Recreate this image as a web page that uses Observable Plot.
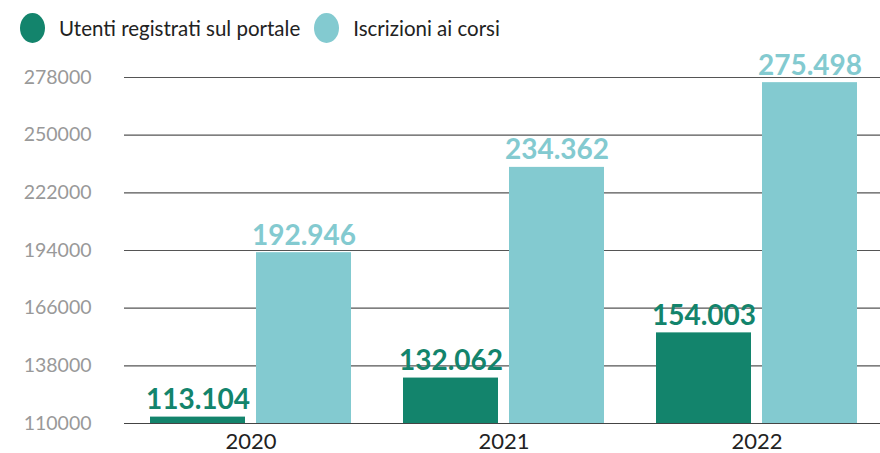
<!DOCTYPE html>
<html>
<head>
<meta charset="utf-8">
<script src="https://cdn.jsdelivr.net/npm/d3@7"></script>
<script src="https://cdn.jsdelivr.net/npm/@observablehq/plot@0.6"></script>
<style>
  html, body { margin: 0; background: white; overflow: hidden; font-family: Lato, "Noto Sans", sans-serif; }
  #legend { box-sizing: border-box; height: 45px; padding-top: 11px; display: flex; align-items: center; }
  .item { display: flex; align-items: center; font-size: 20.5px; color: #222; }
  .sw { width: 25px; height: 30px; border-radius: 50%; display: inline-block; margin-right: 14px; }
  svg { overflow: visible; display: block; }
</style>
</head>
<body>
<div id="legend"></div>
<div id="chart"></div>
<script>
const years = ["2020", "2021", "2022"];
const series = ["Utenti registrati sul portale", "Iscrizioni ai corsi"];
const utenti = [113104, 132062, 154003];
const iscrizioni = [192946, 234362, 275498];
const yTicks = [110000, 138000, 166000, 194000, 222000, 250000, 278000];
const colors = ["#13846c", "#83cad0"];

const data = years.flatMap((y, i) => [
  {year: y, series: series[0], value: utenti[i]},
  {year: y, series: series[1], value: iscrizioni[i]}
]);

const fmt = d3.formatLocale({decimal: ",", thousands: ".", grouping: [3], currency: ["", "€"]}).format(",");

const legend = document.getElementById("legend");
series.forEach((s, i) => {
  const it = document.createElement("div");
  it.className = "item";
  it.style.marginLeft = i === 0 ? "20px" : "14px";
  it.innerHTML = `<span class="sw" style="background:${colors[i]}"></span><span>${s}</span>`;
  legend.appendChild(it);
});

const chart = Plot.plot({
  width: 884,
  height: 408,
  marginLeft: 123,
  marginRight: 0,
  marginTop: 32,
  marginBottom: 30,
  style: {fontFamily: "Lato, 'Noto Sans', sans-serif", background: "white", overflow: "visible", maxWidth: "none"},
  fx: {domain: years, padding: 0, label: null, axis: null},
  x: {domain: series, paddingInner: 0.104, paddingOuter: 0.245, axis: null},
  y: {domain: [yTicks[0], yTicks[yTicks.length - 1]], axis: null},
  color: {domain: series, range: colors},
  marks: [
    Plot.ruleY(yTicks, {stroke: "#555", strokeWidth: 1.2}),
    Plot.barY(data, {fx: "year", x: "series", y1: yTicks[0], y2: "value", fill: "series"}),
    Plot.text(data, {fx: "year", x: "series", y: "value", text: d => fmt(d.value), fill: "series",
      dy: -8, lineAnchor: "bottom", fontSize: 28, fontWeight: "bold"}),
    Plot.ruleY([yTicks[0]], {stroke: "#444", strokeWidth: 1.2}),
    Plot.axisY({ticks: yTicks, tickSize: 0, tickPadding: 33, fontSize: 19.5, fill: "#999",
      tickFormat: d => String(d), label: null}),
    Plot.axisFx({anchor: "bottom", tickSize: 0, tickPadding: 10, fontSize: 22, fill: "#222", label: null})
  ]
});
document.getElementById("chart").appendChild(chart);
</script>
</body>
</html>
